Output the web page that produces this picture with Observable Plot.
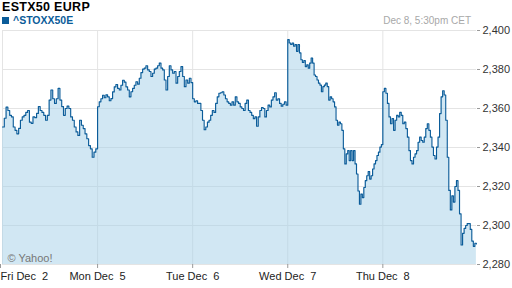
<!DOCTYPE html>
<html>
<head>
<meta charset="utf-8">
<script src="https://cdn.jsdelivr.net/npm/d3@7"></script>
<script src="https://cdn.jsdelivr.net/npm/@observablehq/plot@0.6"></script>
<style>
  html, body { margin: 0; padding: 0; background: #fff; }
  #wrap { position: relative; width: 512px; height: 288px; overflow: hidden; font-family: "Liberation Sans", Arial, sans-serif; }
  #wrap svg { position: absolute; left: 0; top: 0; }
  #title { position: absolute; left: 2px; top: 1.4px; font-size: 12.5px; line-height: 12.5px; letter-spacing: 0.3px; font-weight: bold; color: #000; white-space: nowrap; }
  #legend { position: absolute; left: 2px; top: 14.6px; font-size: 10.5px; line-height: 10.5px; font-weight: bold; color: #0b5c99; white-space: nowrap; }
  #legend .sw { display: inline-block; width: 7px; height: 7px; background: #0b5c99; margin-right: 4px; vertical-align: 0px; }
  #stamp { position: absolute; right: 41px; top: 15.5px; font-size: 10px; line-height: 10px; color: #a8a8a8; white-space: nowrap; }
</style>
</head>
<body>
<div id="wrap">
  <div id="title">ESTX50 EURP</div>
  <div id="legend"><span class="sw"></span>^STOXX50E</div>
  <div id="stamp">Dec 8, 5:30pm CET</div>
</div>
<script>
// ---- data ----
const dayLabels = ["Fri Dec 2", "Mon Dec 5", "Tue Dec 6", "Wed Dec 7", "Thu Dec 8"];
const yTicks = [2280, 2300, 2320, 2340, 2360, 2380, 2400];
const seriesName = "^STOXX50E";
const sourceNote = "© Yahoo!";

const fri = [2350.5, 2355, 2360.7, 2359, 2356.5, 2355.7, 2350.5, 2348.8, 2347, 2349.8,
  2354, 2355.7, 2356.5, 2358, 2359, 2353, 2352.4, 2355.7, 2355.3, 2357.5,
  2361, 2359, 2358, 2356.5, 2354, 2356.5, 2364.3, 2369.5, 2365, 2362.6,
  2365, 2370.3, 2364.3, 2361, 2356.5, 2360, 2361.2, 2360, 2355.7, 2354,
  2350.5, 2348, 2346.2, 2354, 2351.4, 2349.7, 2347, 2344.5, 2341, 2339.3,
  2335, 2337.6, 2339.3];
const mon = [2360.9, 2363.4, 2365, 2366.8, 2365.5, 2367, 2366, 2364, 2365.1, 2368.5,
  2371.1, 2372.3, 2370.3, 2369.5, 2371.9, 2374.5, 2373.5, 2371.1, 2369.5, 2366,
  2368.6, 2370.3, 2371.9, 2373.7, 2372.5, 2375.5, 2378.4, 2380.2, 2380.7, 2381.9,
  2379.8, 2379, 2376.4, 2378.1, 2380.2, 2380.7, 2381.9, 2383.3, 2380.7, 2379.8,
  2374.6, 2369.5, 2376.4, 2381.9, 2379.8, 2378.1, 2379, 2373, 2376.4, 2379,
  2381.5, 2376.4, 2371.2, 2374.6, 2373, 2375.5, 2373.3];
const tue = [2365, 2363.4, 2364, 2362.6, 2362.6, 2359, 2354, 2349.1, 2350.5, 2353,
  2354, 2356.5, 2359, 2358, 2362.6, 2366, 2367.8, 2368.1, 2368.6, 2366.9,
  2365, 2363.4, 2362.6, 2361.7, 2363.4, 2361.7, 2366, 2363.4, 2362.6, 2360.8,
  2360, 2359, 2362.6, 2364.3, 2359, 2358, 2356.5, 2354.8, 2355.7, 2350.9,
  2355.7, 2359, 2360.5, 2360, 2355.7, 2359, 2361.7, 2360.8, 2364.3, 2366,
  2368.1, 2364.3, 2365, 2362.6, 2361.2, 2362.2, 2363.4, 2361.7];
const wed = [2395.3, 2393.6, 2392.8, 2393.6, 2391.9, 2392.8, 2389.3, 2392.8, 2388.5, 2385,
  2383.6, 2384.6, 2381.5, 2382.4, 2380.7, 2383.3, 2385.9, 2383.3, 2377.2, 2376.4,
  2374.6, 2373, 2372, 2368.6, 2371.2, 2372, 2373, 2371.2, 2364.3, 2366,
  2365, 2363.4, 2360.8, 2354, 2351.4, 2353, 2352.2, 2348.8, 2339.3, 2331.6,
  2336.7, 2338.4, 2333.3, 2338.4, 2333.3, 2338.4, 2331.6, 2326.4, 2317.7, 2310.9,
  2316.1, 2314.3, 2319.5, 2323, 2325.5, 2327.7, 2323.8, 2325.5, 2329, 2331.6,
  2333.3, 2335.9, 2337.6, 2340.2, 2341.5];
const thu = [2368.6, 2370.3, 2367.8, 2362.6, 2355.7, 2352.2, 2354.8, 2348.8, 2354, 2356.5,
  2355.7, 2358, 2356.5, 2352.2, 2353, 2349.7, 2345.3, 2338.4, 2333.3, 2331.6,
  2335, 2336.7, 2338.4, 2342.7, 2345.3, 2343.6, 2342.7, 2345.3, 2349.7, 2352.2,
  2348.8, 2345.3, 2340.2, 2335.9, 2334.1, 2340.2, 2345.3, 2357.4, 2366, 2369.1,
  2366.9, 2354, 2335, 2318, 2308, 2315.2, 2312, 2320, 2323, 2318,
  2306, 2290, 2296, 2298.5, 2300, 2301, 2301, 2298, 2292, 2289.3,
  2290.9, 2290.5];

// ---- build table: x = trading-day index + fraction of the session ----
const days = [fri, mon, tue, wed, thu];
const rows = [];
days.forEach((vals, d) => vals.forEach((v, i) => rows.push({t: d + i / vals.length, v})));
const dayTicks = dayLabels.map((_, i) => i);
// Yahoo pads the day number: "Dec  5"
const dayFmt = i => dayLabels[i].replace(/ (\d)$/, "\u00a0 $1");

const chart = Plot.plot({
  width: 512,
  height: 288,
  marginTop: 30,
  marginBottom: 24,
  marginLeft: 2,
  marginRight: 36,
  style: {fontFamily: "'Liberation Sans', Arial, sans-serif", fontSize: "11px", background: "transparent", overflow: "visible"},
  x: {domain: [0, 4.985]},
  y: {domain: [2280, 2400]},
  marks: [
    Plot.gridY(yTicks, {stroke: "#e4e4e4", strokeOpacity: 1}),
    Plot.gridX(dayTicks, {stroke: "#e4e4e4", strokeOpacity: 1}),
    Plot.areaY(rows, {x: "t", y1: 2280, y2: "v", fill: "#a3cfe8", fillOpacity: 0.5, curve: "step-after"}),
    Plot.lineY(rows, {x: "t", y: "v", stroke: "#0b5c99", strokeWidth: 1.15, curve: "step-after"}),
    Plot.axisY(yTicks, {anchor: "right", tickFormat: d3.format(","), tickSize: 3, tickPadding: 3, stroke: "#999", fill: "#333", fontSize: 11, label: null}),
    Plot.axisX(dayTicks.slice(1), {anchor: "bottom", tickFormat: dayFmt, tickSize: 4, tickPadding: 4, stroke: "#999", fill: "#222", fontSize: 11, label: null}),
    Plot.axisX([0], {anchor: "bottom", tickFormat: dayFmt, tickSize: 4, tickPadding: 4, stroke: "#999", fill: "#222", fontSize: 11, textAnchor: "start", dx: -2, label: null}),
    Plot.text([sourceNote], {frameAnchor: "bottom-left", text: d => d, textAnchor: "start", lineAnchor: "bottom", dx: 5, dy: -3, fill: "#777", fontSize: 11})
  ]
});
document.getElementById("wrap").prepend(chart);
</script>
</body>
</html>
